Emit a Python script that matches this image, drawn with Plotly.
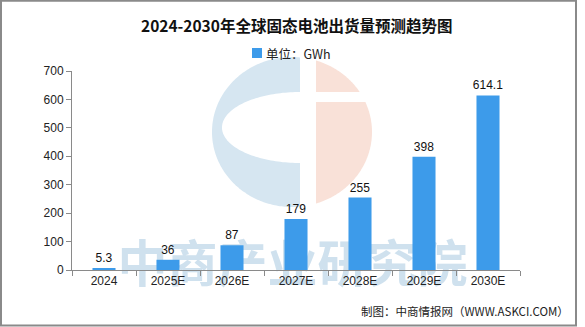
import numpy as np
import plotly.graph_objects as go

categories = ["2024", "2025E", "2026E", "2027E", "2028E", "2029E", "2030E"]
values = [5.3, 36, 87, 179, 255, 398, 614.1]
value_labels = ["5.3", "36", "87", "179", "255", "398", "614.1"]
y_ticks = [0, 100, 200, 300, 400, 500, 600, 700]
series_name = "单位：GWh"
bar_color = "#3d9bea"

W, H = 585, 327
L, R, T, B = 72, 520, 71, 270  # plot area in pixels


def px(x):
    return (x - L) / (R - L)


def py(y):
    return (B - y) / (B - T)


def poly(points):
    return "M " + " L ".join(f"{px(x):.5f},{py(y):.5f}" for x, y in points) + " Z"


# logo decoration (watermark)
cx, cy, rx, ry = 292, 132, 80, 75
ang0 = np.arccos((300 - cx) / rx)
angs = np.linspace(ang0, 2 * np.pi - ang0, 160)
blue_pts = [(cx + rx * np.cos(a), cy - ry * np.sin(a)) for a in angs]
ang1 = np.arccos((316 - cx) / rx)
angs2 = np.linspace(-ang1, ang1, 160)
salmon_pts = [(cx + rx * np.cos(a), cy - ry * np.sin(a)) for a in angs2]
icx, icy, irx, iry = 300, 127.5, 78, 35.5
angs3 = np.linspace(np.pi / 2, 3 * np.pi / 2, 100)
inner_pts = [(icx + irx * np.cos(a), icy - iry * np.sin(a)) for a in angs3]

shapes = [
    dict(type="path", path=poly(blue_pts), xref="paper", yref="paper",
         fillcolor="#d6e6f1", line=dict(width=0), layer="below"),
    dict(type="path", path=poly(inner_pts), xref="paper", yref="paper",
         fillcolor="white", line=dict(width=0), layer="below"),
    dict(type="path", path=poly(salmon_pts), xref="paper", yref="paper",
         fillcolor="#f9e1d8", line=dict(width=0), layer="below"),
    dict(type="rect", xref="paper", yref="paper", x0=px(316), x1=px(380),
         y0=py(102), y1=py(92), fillcolor="white", line=dict(width=0), layer="below"),
    # watermark text
    dict(type="rect", xref="paper", yref="paper", x0=px(110), x1=px(475),
         y0=py(296), y1=py(240), fillcolor="rgba(0,0,0,0)", line=dict(width=0),
         layer="below",
         label=dict(text="<b>中商产业研究院</b>", textposition="middle center",
                    font=dict(family="Noto Sans CJK SC", size=50, color="#cfe1ee"))),
    # legend square
    dict(type="rect", xref="paper", yref="paper", x0=px(252), x1=px(262),
         y0=py(58), y1=py(48), fillcolor=bar_color, line=dict(width=0), layer="above"),
    # outer border
    dict(type="rect", xref="paper", yref="paper", x0=px(1), x1=px(576),
         y0=py(325.5), y1=py(0.8), line=dict(color="#8a8a8a", width=2),
         fillcolor="rgba(0,0,0,0)", layer="above"),
]

fig = go.Figure()
fig.add_trace(go.Bar(
    x=categories, y=values, name=series_name,
    marker=dict(color=bar_color, line=dict(width=0)),
    text=value_labels, textposition="outside", cliponaxis=False,
    constraintext="none",
    textfont=dict(family="Liberation Sans, Arial", size=12, color="#111"),
    showlegend=False,
))

fig.update_layout(
    width=W, height=H,
    margin=dict(l=L, r=W - R, t=T, b=H - B, pad=0),
    paper_bgcolor="white", plot_bgcolor="rgba(0,0,0,0)",
    bargap=0.64,
    shapes=shapes,
    annotations=[
        dict(text="<b>2024-2030年全球固态电池出货量预测趋势图</b>", xref="paper", yref="paper",
             x=px(296), y=py(25), xanchor="center", yanchor="middle", showarrow=False,
             font=dict(family="Noto Sans CJK SC", size=15.5, color="#111")),
        dict(text=series_name, xref="paper", yref="paper",
             x=px(264), y=py(53), xanchor="left", yanchor="middle", showarrow=False,
             font=dict(family="Noto Sans CJK SC", size=12.5, color="#222")),
        dict(text="制图：中商情报网（WWW.ASKCI.COM）", xref="paper", yref="paper",
             x=px(571), y=py(311), xanchor="right", yanchor="middle", showarrow=False,
             font=dict(family="Noto Sans CJK SC", size=11.5, color="#222")),
    ],
)
fig.update_xaxes(
    type="category", showline=True, linecolor="#8a8a8a", linewidth=1,
    ticks="outside", tickson="boundaries", ticklen=5, tickcolor="#8a8a8a",
    tickfont=dict(family="Liberation Sans, Arial", size=12, color="#222"),
    showgrid=False, zeroline=False,
)
fig.update_yaxes(
    range=[0, 700], tickvals=y_ticks, showline=True, linecolor="#8a8a8a", linewidth=1,
    ticks="outside", ticklen=5, tickcolor="#8a8a8a",
    tickfont=dict(family="Liberation Sans, Arial", size=12, color="#222"),
    showgrid=False, zeroline=False,
)

fig.write_html("out.html")
